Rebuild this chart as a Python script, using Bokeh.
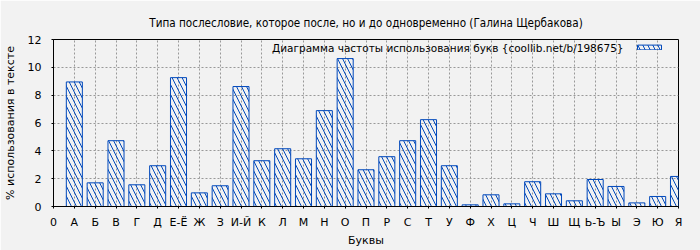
from bokeh.plotting import figure
from bokeh.models import FixedTicker, Legend, LegendItem, Label, Range1d
from bokeh.embed import file_html
from bokeh.resources import INLINE

title_text = "Типа послесловие, которое после, но и до одновременно (Галина Щербакова)"
legend_text = "Диаграмма частоты использования букв {coollib.net/b/198675}"
x_label = "Буквы"
y_label = "% использования в тексте"

letters = ["А", "Б", "В", "Г", "Д", "Е-Ё", "Ж", "З", "И-Й", "К", "Л", "М", "Н", "О", "П",
           "Р", "С", "Т", "У", "Ф", "Х", "Ц", "Ч", "Ш", "Щ", "Ь-Ъ", "Ы", "Э", "Ю", "Я"]
percent = [8.95, 1.70, 4.73, 1.56, 2.93, 9.26, 0.98, 1.49, 8.62, 3.29, 4.15, 3.43, 6.89, 10.63, 2.64,
           3.58, 4.73, 6.24, 2.93, 0.12, 0.84, 0.19, 1.78, 0.91, 0.41, 1.94, 1.44, 0.26, 0.72, 2.16]
y_ticks = [0, 2, 4, 6, 8, 10, 12]

BLUE = "#0048bb"
BG = "#f2f2f2"
FONT = "DejaVu Sans"
FONT_C = "DejaVu Sans Condensed, DejaVu Sans"

xs = list(range(1, len(letters) + 1))
x_ticks = [0] + xs
overrides = {0: "0"}
for i, l in zip(xs, letters):
    overrides[i] = l

p = figure(width=700, height=250, output_backend="svg", toolbar_location=None,
           x_range=Range1d(0, len(letters)), y_range=Range1d(0, 12),
           min_border_left=53, min_border_right=22, min_border_top=39, min_border_bottom=44)
p.background_fill_color = BG
p.border_fill_color = BG
p.outline_line_color = "black"
p.outline_line_width = 1

p.title.text = title_text
p.title.align = "center"
p.title.text_font = FONT_C
p.title.text_font_size = "11.6px"
p.title.text_font_style = "normal"
p.title.text_color = "black"
p.title.standoff = 20

r = p.vbar(x=xs, top=percent, bottom=0, width=0.77, fill_color=None, line_color=BLUE, line_width=1,
           hatch_pattern="\\", hatch_color=BLUE, hatch_scale=10, hatch_weight=1)

xa = p.xaxis[0]
xa.ticker = FixedTicker(ticks=x_ticks)
xa.major_label_overrides = overrides
xa.minor_tick_line_color = None
xa.major_tick_in = 0
xa.major_tick_out = 2
xa.major_label_standoff = 7
xa.axis_label = x_label
xa.axis_label_standoff = 2

ya = p.yaxis[0]
ya.ticker = FixedTicker(ticks=y_ticks)
ya.minor_tick_line_color = None
ya.major_tick_in = 0
ya.major_tick_out = 2
ya.major_label_standoff = 10
ya.axis_label = y_label
ya.axis_label_standoff = 8

for ax in (xa, ya):
    ax.axis_line_color = "black"
    ax.major_tick_line_color = "black"
    ax.major_label_text_font = FONT
    ax.major_label_text_font_size = "11px"
    ax.major_label_text_color = "black"
    ax.axis_label_text_font = FONT
    ax.axis_label_text_font_size = "11px"
    ax.axis_label_text_font_style = "normal"
    ax.axis_label_text_color = "black"

p.xgrid.ticker = FixedTicker(ticks=x_ticks)
p.ygrid.ticker = FixedTicker(ticks=y_ticks)
for g in (p.xgrid[0], p.ygrid[0]):
    g.grid_line_color = "#999999"
    g.grid_line_dash = "2 2"
    g.grid_line_width = 1

legend = Legend(items=[LegendItem(label=" ", renderers=[r])], location=(581, 156),
                glyph_width=30, glyph_height=6, label_text_font_size="1px",
                label_standoff=0, label_width=0, label_height=0, padding=0, margin=0, spacing=0,
                border_line_color=None, background_fill_alpha=0)
p.add_layout(legend, "center")

p.add_layout(Label(x=570, y=159, x_units="screen", y_units="screen", text=legend_text,
                   text_align="right", text_baseline="middle", text_font=FONT,
                   text_font_size="10.5px", text_color="black"))

open("out.html", "w").write(file_html(p, INLINE))
